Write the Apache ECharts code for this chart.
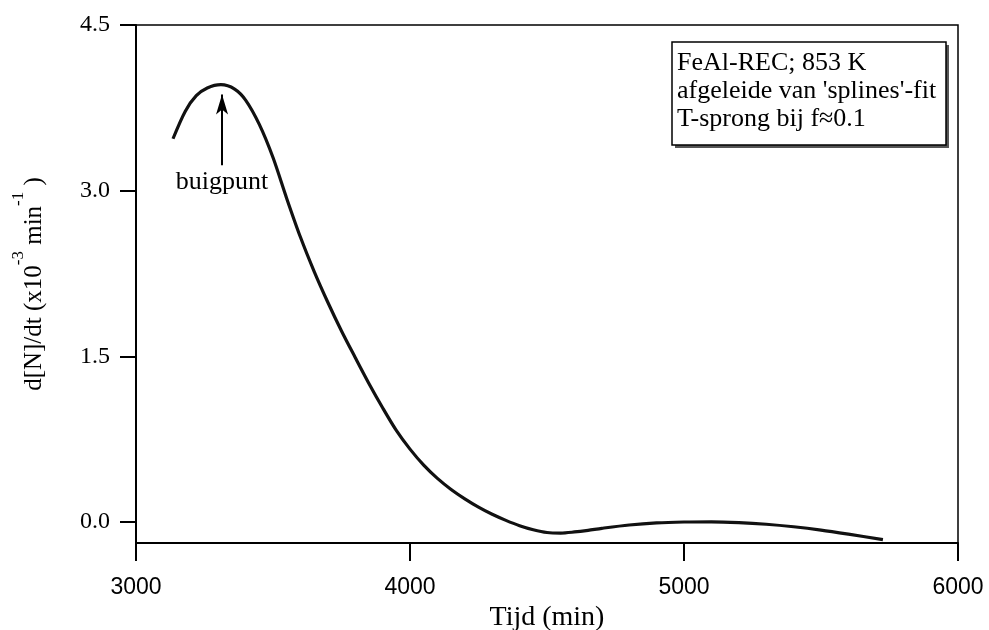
<!DOCTYPE html>
<html>
<head>
<meta charset="utf-8">
<script src="https://cdn.jsdelivr.net/npm/echarts@6/dist/echarts.min.js"></script>
<style>html,body{margin:0;padding:0;background:#fff;}#c{width:989px;height:630px;}</style>
</head>
<body>
<div id="c"></div>
<script>
// Data
var timeMin = [3135, 3180, 3220, 3260, 3310, 3360, 3400, 3450, 3500, 3550, 3600, 3650, 3700, 3750, 3800, 3850, 3900, 3950, 4000, 4050, 4100, 4150, 4200, 4250, 4300, 4350, 4400, 4450, 4500, 4550, 4600, 4650, 4700, 4800, 4900, 5000, 5100, 5200, 5300, 5400, 5500, 5600, 5726];
var rate = [3.47, 3.72, 3.86, 3.93, 3.96, 3.92, 3.82, 3.60, 3.30, 2.93, 2.58, 2.27, 1.99, 1.73, 1.49, 1.255, 1.035, 0.83, 0.66, 0.515, 0.395, 0.295, 0.21, 0.135, 0.07, 0.015, -0.033, -0.07, -0.095, -0.10, -0.09, -0.075, -0.057, -0.027, -0.008, 0.0, 0.002, -0.005, -0.02, -0.043, -0.073, -0.11, -0.16];
var yTicks = [0, 1.5, 3.0, 4.5];
var xTicks = [3000, 4000, 5000, 6000];
var arrowX = [3314, 3314];
var arrowY = [3.23, 3.87];
var noteText = 'buigpunt';
var notePos = [3314, 3.08];
var boxLines = ['FeAl-REC; 853 K', "afgeleide van 'splines'-fit", 'T-sprong bij f\u22480.1'];

var serif = '"Liberation Serif", "Times New Roman", serif';
var chart = echarts.init(document.getElementById('c'), null, {renderer: 'canvas'});
var pts = timeMin.map(function (t, i) { return [t, rate[i]]; });

chart.setOption({
  animation: false,
  backgroundColor: '#fff',
  grid: {left: 136, right: 31, top: 25, bottom: 87, containLabel: false, outerBoundsMode: 'none',
    show: true, borderColor: '#000', borderWidth: 1.5, backgroundColor: 'transparent'},
  xAxis: {
    type: 'value', min: xTicks[0], max: xTicks[xTicks.length - 1], interval: 1000,
    name: 'Tijd (min)', nameLocation: 'middle', nameGap: 56,
    nameTextStyle: {fontFamily: serif, fontSize: 28, color: '#000'},
    axisLine: {show: true, onZero: false, lineStyle: {color: '#000', width: 2}},
    axisTick: {show: true, inside: false, length: 18, lineStyle: {color: '#000', width: 2}},
    axisLabel: {margin: 33, fontFamily: '"Liberation Sans", Arial, sans-serif', fontSize: 23, color: '#000',
      formatter: function (v) { return String(v); }},
    splitLine: {show: false}
  },
  yAxis: {
    type: 'value', min: -0.19, max: 4.5,
    name: '{m|d[N]/dt (x10}{s|-3}{m| min}{s|-1}{m| )}',
    nameLocation: 'middle', nameRotate: 90, nameGap: 77,
    nameTextStyle: {
      color: '#000',
      rich: {
        m: {fontFamily: serif, fontSize: 25, color: '#000'},
        s: {fontFamily: serif, fontSize: 17, color: '#000', padding: [0, 0, 32, 0]}
      }
    },
    axisLine: {show: true, onZero: false, lineStyle: {color: '#000', width: 2}},
    axisTick: {show: true, inside: false, length: 16, customValues: yTicks, lineStyle: {color: '#000', width: 2}},
    axisLabel: {margin: 26, customValues: yTicks, fontFamily: serif, fontSize: 24, color: '#000',
      formatter: function (v) { return v.toFixed(1); }},
    splitLine: {show: false}
  },
  series: [{
    type: 'line', data: pts, smooth: 0.3, showSymbol: false, symbol: 'none',
    lineStyle: {color: '#111', width: 3.2},
    markLine: {
      silent: true, animation: false,
      symbol: ['none', 'arrow'], symbolSize: [9, 20],
      lineStyle: {color: '#000', width: 2, type: 'solid'},
      label: {show: false},
      data: [[{coord: [arrowX[0], arrowY[0]]}, {coord: [arrowX[1], arrowY[1]]}]]
    },
    markPoint: {
      silent: true, animation: false,
      symbol: 'rect', symbolSize: 1, itemStyle: {color: 'rgba(0,0,0,0)'},
      label: {show: true, position: 'inside', formatter: noteText, fontFamily: serif, fontSize: 26, color: '#000'},
      data: [{coord: notePos, value: noteText}]
    }
  }],
  graphic: [
    {type: 'rect', shape: {x: 675, y: 45, width: 274, height: 103}, style: {fill: '#555'}, z: 100},
    {type: 'rect', shape: {x: 672, y: 42, width: 274, height: 103}, style: {fill: '#fff', stroke: '#000', lineWidth: 1.5}, z: 101},
    {type: 'text', left: 677, top: 49, z: 102,
      style: {text: boxLines.join('\n'), fontFamily: serif, fontSize: 26, lineHeight: 28, fill: '#000'}}
  ]
});
</script>
</body>
</html>
